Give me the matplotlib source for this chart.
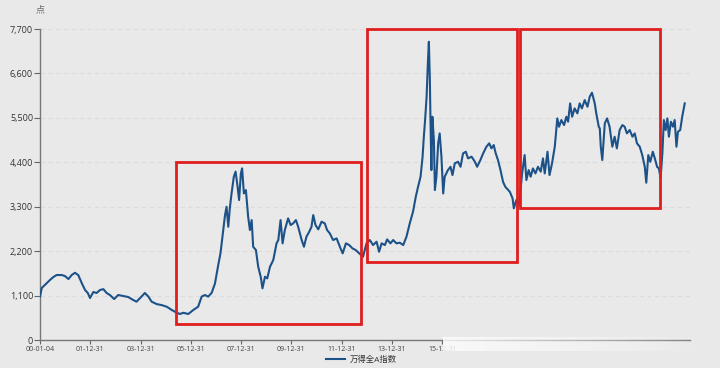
import numpy as np
import matplotlib
matplotlib.use("Agg")
import matplotlib.pyplot as plt
from matplotlib.patches import Rectangle
from matplotlib.ticker import FuncFormatter

plt.rcParams['font.family'] = ['Open Sans', 'Noto Sans CJK SC', 'DejaVu Sans']

# decimal year (2000.0 = 00-01-04) and index level
years = [0.00, 0.07, 0.27, 0.40, 0.53, 0.66, 0.86, 0.99, 1.13, 1.26, 1.39, 1.52, 1.66, 1.79,
         1.90, 1.99, 2.12, 2.25, 2.39, 2.52, 2.65, 2.78, 2.95, 3.11, 3.31, 3.51, 3.71, 3.84,
         4.02, 4.17, 4.31, 4.44, 4.64, 4.84, 5.04, 5.24, 5.44, 5.57, 5.70, 5.90, 6.10, 6.29,
         6.43, 6.56, 6.69, 6.83, 6.96, 7.09, 7.18, 7.26, 7.36, 7.42, 7.49, 7.55, 7.62, 7.71,
         7.78, 7.86, 7.92, 7.99, 8.04, 8.11, 8.19, 8.28, 8.35, 8.42, 8.48, 8.59, 8.68, 8.78,
         8.85, 8.95, 9.04, 9.15, 9.28, 9.41, 9.48, 9.57, 9.65, 9.74, 9.87, 9.97, 10.07, 10.18,
         10.27, 10.41, 10.50, 10.60, 10.71, 10.80, 10.87, 10.96, 11.07, 11.20, 11.33, 11.42,
         11.53, 11.66, 11.80, 11.93, 12.04, 12.17, 12.30, 12.43, 12.56, 12.70, 12.85, 12.99,
         13.12, 13.25, 13.39, 13.49, 13.59, 13.72, 13.81, 13.94, 14.05, 14.18, 14.31, 14.45,
         14.58, 14.71, 14.84, 14.95, 15.04, 15.14, 15.22, 15.27, 15.32, 15.38, 15.43, 15.47,
         15.51, 15.53, 15.57, 15.61, 15.67, 15.71, 15.77, 15.84, 15.90, 15.97, 16.04, 16.10,
         16.23, 16.33, 16.41, 16.50, 16.63, 16.73, 16.83, 16.94, 17.03, 17.17, 17.30, 17.39,
         17.52, 17.63, 17.76, 17.87, 17.96, 18.05, 18.13, 18.22, 18.32, 18.42, 18.51, 18.69,
         18.80, 18.85, 18.95, 19.06, 19.18, 19.28, 19.35, 19.44, 19.52, 19.61, 19.71, 19.81,
         19.92, 20.01, 20.08, 20.19, 20.27, 20.37, 20.48, 20.58, 20.65, 20.74, 20.85, 20.94,
         21.01, 21.09, 21.17, 21.27, 21.38, 21.47, 21.56, 21.67, 21.78, 21.87, 21.96, 22.07,
         22.13, 22.23, 22.27, 22.31, 22.37, 22.47, 22.56, 22.66, 22.77, 22.86, 22.95, 23.06,
         23.17, 23.26, 23.35, 23.46, 23.57, 23.66, 23.75, 23.86, 23.96, 24.06, 24.12, 24.20,
         24.28, 24.38, 24.46, 24.55, 24.62, 24.69, 24.76, 24.82, 24.89, 24.96, 25.02, 25.10,
         25.18, 25.25, 25.32, 25.38, 25.47, 25.55, 25.65]
values = [1080, 1290, 1410, 1490, 1560, 1610, 1610, 1585, 1510, 1610, 1665, 1610, 1410, 1240,
          1165, 1040, 1190, 1165, 1240, 1260, 1165, 1115, 1015, 1115, 1090, 1065, 990, 950,
          1065, 1165, 1075, 950, 890, 865, 825, 745, 675, 645, 675, 645, 745, 825,
          1075, 1115, 1075, 1170, 1400, 1857, 2150, 2560, 3095, 3300, 2805, 3260, 3630, 4045,
          4170, 3795, 3466, 4125, 4250, 3630, 3714, 3055, 2724, 2970, 2310, 2228, 1815, 1567,
          1280, 1567, 1527, 1815, 1981, 2394, 2476, 2971, 2394, 2724, 3013, 2847, 2888, 2971,
          2805, 2476, 2310, 2560, 2682, 2805, 3095, 2847, 2740, 2930, 2888, 2724,
          2640, 2476, 2517, 2310, 2146, 2394, 2352, 2270, 2228, 2146, 2063, 2394,
          2476, 2352, 2435, 2187, 2394, 2352, 2492, 2394, 2476, 2394, 2410, 2352,
          2560, 2888, 3178, 3550, 3795, 4045, 4540, 5035, 5447, 6025, 6850, 7385,
          6438, 5613, 4209, 5530, 4952, 3714, 4045, 4870, 5117, 4540, 3630, 4045,
          4209, 4290, 4085, 4375, 4415, 4290, 4622, 4663, 4498, 4540, 4415, 4290,
          4457, 4622, 4787, 4870, 4746, 4828, 4622, 4457, 4209, 3920, 3795, 3672,
          3508, 3260, 3466, 3343, 4125, 4580, 3962, 4209, 4045, 4250, 4125, 4290,
          4170, 4498, 4125, 4663, 4085, 4375, 4787, 5488, 5282, 5447, 5323, 5530,
          5406, 5860, 5530, 5736, 5613, 5860, 5736, 5942, 5777, 6025, 6124, 5860,
          5613, 5282, 5240, 4787, 4457, 5365, 5488, 5282, 4787, 5035, 4746, 5200,
          5323, 5282, 5117, 5200, 5035, 5117, 4870, 4787, 4580, 4290, 3896, 4580,
          4415, 4663, 4498, 4290, 4250, 4003, 4622, 5447, 5200, 5488, 5035, 5406,
          5282, 5447, 4787, 5158, 5200, 5530, 5860]

tick_pos = [0, 2, 4, 6, 8, 10, 12, 14, 16]
tick_labels = ['00-01-04', '01-12-31', '03-12-31', '05-12-31', '07-12-31',
               '09-12-31', '11-12-31', '13-12-31', '15-12-31']
y_ticks = [0, 1100, 2200, 3300, 4400, 5500, 6600, 7700]

# highlighted periods: (x0, x1, y0, y1)
boxes = [(5.41, 12.76, 396, 4407),
         (13.00, 18.97, 1931, 7700),
         (19.09, 24.65, 3268, 7700)]

bg = '#e9e9e9'
fig = plt.figure(figsize=(7.2, 3.68), dpi=100, facecolor=bg)
ax = fig.add_axes([0.0556, 0.076, 0.9024, 0.845])
ax.set_facecolor(bg)

line, = ax.plot(years, values, color='#1d5289', lw=1.5, solid_joinstyle='round', zorder=3)

for x0, x1, y0, y1 in boxes:
    ax.add_patch(Rectangle((x0, y0), x1 - x0, y1 - y0, fill=False,
                           edgecolor='#e01e1e', lw=2, zorder=4, clip_on=False))

ax.set_xlim(0, 25.85)
ax.set_ylim(0, 7700)
ax.set_yticks(y_ticks)
ax.yaxis.set_major_formatter(FuncFormatter(lambda v, p: f'{int(v):,}'))
ax.set_xticks(tick_pos)
ax.set_xticklabels(tick_labels)
ax.tick_params(axis='y', labelsize=6.5, length=4, color='#666666', labelcolor='#333333', pad=1)
ax.tick_params(axis='x', labelsize=5, length=3, color='#666666', labelcolor='#444444', pad=1)
ax.grid(axis='y', color='#dcdcdc', lw=0.8, ls=(0, (4, 3)))
for s in ['top', 'right']:
    ax.spines[s].set_visible(False)
for s in ['left', 'bottom']:
    ax.spines[s].set_color('#777777')
    ax.spines[s].set_linewidth(1)

fig.text(0.049, 0.972, '点', fontsize=6.5, color='#666666', ha='left', va='center')

# fade over the later part of the date axis
fade = fig.add_axes([0.615, 0.045, 0.36, 0.04])
grad = np.linspace(1, 0, 256).reshape(1, -1)
rgba = np.ones((1, 256, 4))
rgba[..., :3] = 0.99
rgba[..., 3] = 0.85 * grad ** 0.8
fade.imshow(rgba, aspect='auto', extent=[0, 1, 0, 1])
fade.axis('off')

leg = fig.legend([line], ['万得全A指数'], loc='center', bbox_to_anchor=(0.502, 0.022),
                 frameon=False, fontsize=6, handlelength=2.2, handletextpad=0.6,
                 borderaxespad=0, borderpad=0)
for t in leg.get_texts():
    t.set_color('#333333')

fig.savefig('out.png', dpi=100, facecolor=bg)
